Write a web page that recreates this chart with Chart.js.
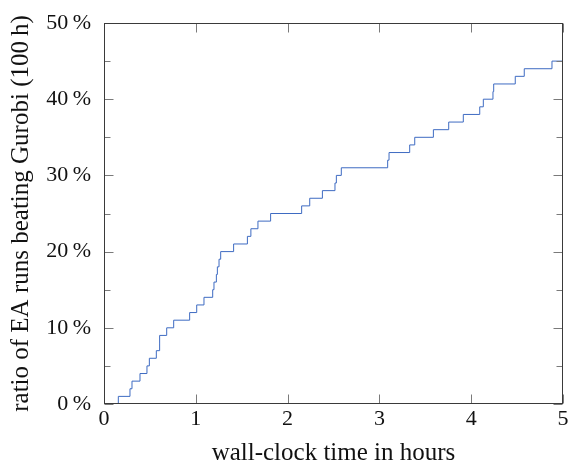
<!DOCTYPE html>
<html>
<head>
<meta charset="utf-8">
<script src="https://cdn.jsdelivr.net/npm/chart.js@4"></script>
<style>
  body { margin: 0; background: #fff; }
  canvas { display: block; }
</style>
</head>
<body>
<canvas id="chart" width="568" height="464"></canvas>
<script>
// hour at which each further EA run beats Gurobi (one run = 1 %)
const jumpHours = [
  0.156, 0.283, 0.305, 0.392, 0.468, 0.494, 0.570, 0.606, 0.606, 0.683,
  0.759, 0.933, 1.010, 1.089, 1.184, 1.198, 1.224, 1.235, 1.253, 1.271,
  1.412, 1.562, 1.600, 1.677, 1.815, 2.153, 2.241, 2.379, 2.516, 2.531,
  2.585, 3.090, 3.105, 3.330, 3.385, 3.588, 3.755, 3.914, 4.093, 4.132,
  4.237, 4.245, 4.480, 4.578, 4.880,
];
const jumpRatio = [
  1, 2, 3, 4, 5, 6, 7, 8, 9, 10,
  11, 12, 13, 14, 15, 16, 17, 18, 19, 20,
  21, 22, 23, 24, 25, 26, 27, 28, 29, 30,
  31, 32, 33, 34, 35, 36, 37, 38, 39, 40,
  41, 42, 43, 44, 45,
];
const startPoint = { hours: 0, ratio: 0 };
const endPoint = { hours: 5, ratio: 45 };

const xTicks = [0, 1, 2, 3, 4, 5];
const yTicks = [0, 10, 20, 30, 40, 50];
const yMinorTicks = [5, 15, 25, 35, 45];

const xTitle = "wall-clock time in hours";
const yTitle = "ratio of EA runs beating Gurobi (100\u2009h)";

const FONT = "'Liberation Serif', 'DejaVu Serif', serif";

function buildPoints() {
  const pts = [{ x: startPoint.hours, y: startPoint.ratio }];
  jumpHours.forEach((h, i) => pts.push({ x: h, y: jumpRatio[i] }));
  pts.push({ x: endPoint.hours, y: endPoint.ratio });
  return pts;
}

function noPad(s) {
  s.paddingLeft = 0;
  s.paddingRight = 0;
  s.paddingTop = 0;
  s.paddingBottom = 0;
}

// pgfplots-like frame with inward ticks on all four sides
const frameTicks = {
  id: "frameTicks",
  afterDatasetsDraw(chart) {
    const { ctx, chartArea: a, scales } = chart;
    const px = (v) => Math.round(v) + 0.5;
    const left = px(a.left), right = px(a.right - 1);
    const top = px(a.top), bottom = px(a.bottom - 1);
    ctx.save();
    ctx.lineWidth = 1;
    ctx.strokeStyle = "#7a7a7a";
    ctx.beginPath();
    const yTick = (len) => (v) => {
      const p = px(scales.y.getPixelForValue(v));
      ctx.moveTo(left, p); ctx.lineTo(left + len, p);
      ctx.moveTo(right, p); ctx.lineTo(right - len, p);
    };
    yTicks.forEach(yTick(9));
    yMinorTicks.forEach(yTick(6));
    xTicks.forEach((v) => {
      const p = px(scales.x.getPixelForValue(v));
      ctx.moveTo(p, bottom); ctx.lineTo(p, bottom - 9);
      ctx.moveTo(p, top); ctx.lineTo(p, top + 9);
    });
    ctx.stroke();
    ctx.strokeStyle = "#3a3a3a";
    ctx.strokeRect(left, top, right - left, bottom - top);
    ctx.restore();
  },
};

function init() {
  new Chart(document.getElementById("chart"), {
    type: "line",
    data: {
      datasets: [
        {
          data: buildPoints(),
          stepped: "before",
          borderColor: "#3e6bc2",
          borderWidth: 1,
          pointRadius: 0,
          fill: false,
        },
      ],
    },
    options: {
      responsive: false,
      animation: false,
      devicePixelRatio: 1,
      layout: { padding: { left: 0, top: 23, right: 5, bottom: 0 } },
      plugins: { legend: { display: false }, tooltip: { enabled: false } },
      scales: {
        x: {
          type: "linear",
          min: 0,
          max: 5,
          grid: { display: false, drawTicks: false },
          border: { display: false },
          afterBuildTicks: (s) => { s.ticks = xTicks.map((v) => ({ value: v })); },
          afterFit: (s) => { s.height = 60; noPad(s); },
          ticks: {
            color: "#111",
            padding: 2,
            font: { family: FONT, size: 22 },
            callback: (v) => String(v),
          },
          title: {
            display: true,
            text: xTitle,
            color: "#111",
            font: { family: FONT, size: 25 },
            padding: { top: 0, bottom: -4 },
          },
        },
        y: {
          type: "linear",
          min: 0,
          max: 50,
          grid: { display: false, drawTicks: false },
          border: { display: false },
          afterBuildTicks: (s) => { s.ticks = yTicks.map((v) => ({ value: v })); },
          afterFit: (s) => { s.width = 104; noPad(s); },
          ticks: {
            color: "#111",
            padding: 13,
            font: { family: FONT, size: 22 },
            callback: (v) => v + "\u2009%",
          },
          title: {
            display: true,
            text: yTitle,
            color: "#111",
            font: { family: FONT, size: 25 },
            padding: { top: 6, bottom: 0 },
          },
        },
      },
    },
    plugins: [frameTicks],
  });
}

window.addEventListener("load", init);
</script>
</body>
</html>
